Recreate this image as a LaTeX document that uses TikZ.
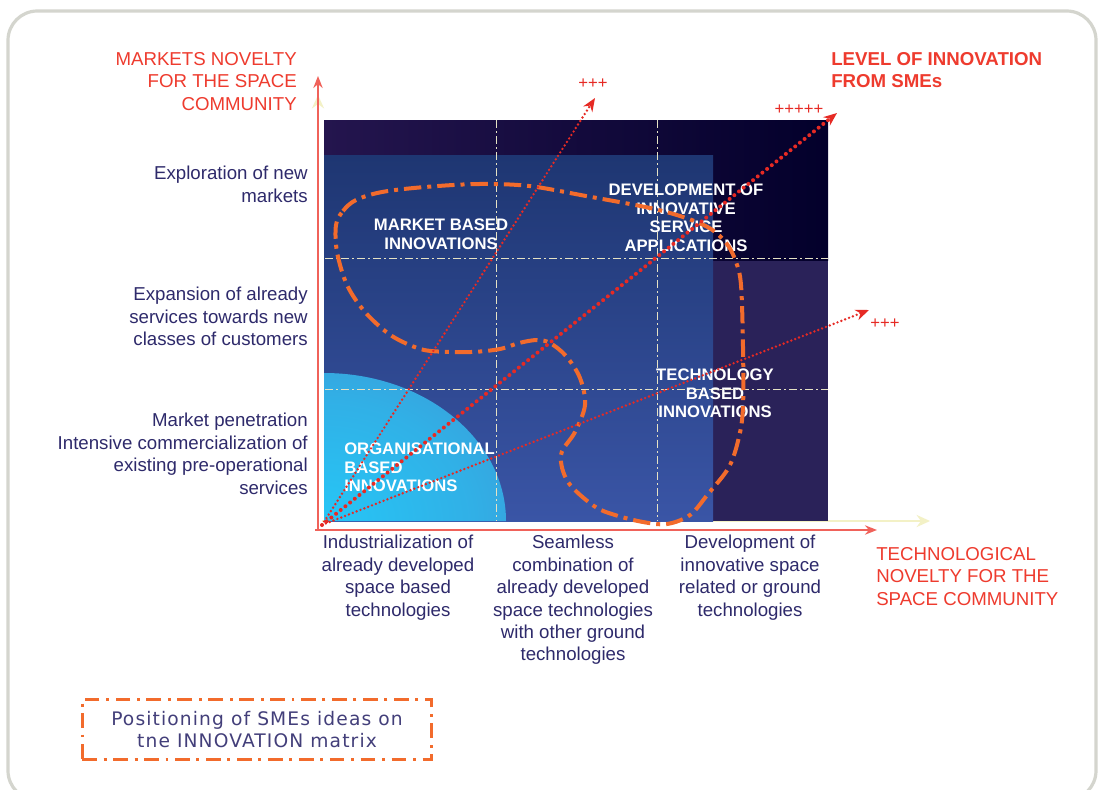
\documentclass[tikz,border=0pt]{standalone}
\usepackage{fontspec}
\setmainfont{Liberation Sans}
\newfontfamily\legendfont[LetterSpace=6]{DejaVu Sans}
\usetikzlibrary{arrows.meta}
\definecolor{navytext}{HTML}{2E2A6B}
\definecolor{axisred}{HTML}{F0625A}
\definecolor{labelred}{HTML}{EE3B2E}
\definecolor{dotred}{HTML}{E62A24}
\definecolor{orangec}{HTML}{F26B2C}
\definecolor{borderc}{HTML}{D4D5CE}
\definecolor{paley}{HTML}{F3F1C6}
\definecolor{gridc}{HTML}{E6E2C4}
\definecolor{bandl}{HTML}{24154E}
\definecolor{bandr}{HTML}{03002B}
\definecolor{rightcol}{HTML}{2A2259}
\definecolor{bluetop}{HTML}{1E3672}
\definecolor{bluebot}{HTML}{3A55A6}
\definecolor{cyanin}{HTML}{26C6F6}
\definecolor{cyanout}{HTML}{4A7DC2}
\pgfdeclareradialshading{quadshade}{\pgfpoint{0bp}{0bp}}{color(0bp)=(cyanin); color(20bp)=(cyanin!70!cyanout); color(50bp)=(cyanout); color(100bp)=(cyanout)}
\tikzset{
  axislbl/.style={font=\fontsize{14}{16.8}\selectfont, text=labelred, inner sep=0},
  rowlbl/.style={font=\fontsize{14}{16.8}\selectfont, text=navytext, align=right, inner sep=0, anchor=north east},
  collbl/.style={font=\fontsize{14}{16.8}\selectfont, text=navytext, align=center, inner sep=0, anchor=north},
  zonelbl/.style={font=\bfseries\fontsize{12.5}{13.9}\selectfont, text=white, inner sep=0},
  pluslbl/.style={font=\fontsize{12.5}{14}\selectfont, text=dotred, inner sep=0},
  gridline/.style={gridc, line width=0.7pt, dash pattern=on 6pt off 2.5pt on 1pt off 2.5pt},
  ideacurve/.style={orangec, line width=3pt, dash pattern=on 13pt off 4.5pt on 3pt off 4.5pt},
  growth/.style={dotred, line width=2pt, line cap=round, dash pattern=on 0pt off 3.1pt, -{Stealth[length=10pt,width=8pt]}},
  growthbold/.style={growth, line width=3pt, dash pattern=on 0pt off 4.5pt},
  redaxis/.style={axisred, line width=1.5pt, -{Stealth[length=9pt,width=7pt]}},
  paleaxis/.style={paley, line width=2.2pt, -{Stealth[length=10pt,width=9pt]}},
  legendbox/.style={draw=orangec, line width=2.2pt, dash pattern=on 11pt off 5pt on 2.2pt off 5pt,
    minimum width=262pt, minimum height=45.5pt, inner sep=0, align=center,
    font=\legendfont\fontsize{14}{15.8}\selectfont, text=navytext!90!white}
}
\begin{document}
\begin{tikzpicture}[x=0.75pt,y=-0.75pt]
\clip (0,0) rectangle (1099,789);
\fill[white] (0,0) rectangle (1099,789);
% outer frame
\draw[borderc, line width=2.4pt, rounded corners=22pt] (8,11) rectangle (1096,800);

% pale axes under the matrix
\coordinate (pvo) at (318,525);
\coordinate (pvt) at (318,95);
\coordinate (pho) at (322,521);
\coordinate (pht) at (930,521);
\draw[paleaxis] (pvo) -- (pvt);
\draw[paleaxis] (pho) -- (pht);

% matrix fills
\fill[rightcol] (324,120) rectangle (828,521);
\shade[left color=bandl, right color=bandr] (324,120) rectangle (828,260);
\shade[top color=bluetop, bottom color=bluebot] (324,155) rectangle (713,521);
\begin{scope}
  \clip (324,521) -- (324,373) .. controls (424.5,373) and (506,439.3) .. (506,521) -- cycle;
  \shade[shading=quadshade] (139,371) rectangle (509,671);
\end{scope}

% grid
\coordinate (g1t) at (496,120); \coordinate (g1b) at (496,521);
\coordinate (g2t) at (657,120); \coordinate (g2b) at (657,521);
\coordinate (h1l) at (325,258); \coordinate (h1r) at (828,258);
\coordinate (h2l) at (325,389); \coordinate (h2r) at (828,389);
\draw[gridline] (g1t) -- (g1b);
\draw[gridline] (g2t) -- (g2b);
\draw[gridline] (h1l) -- (h1r);
\draw[gridline] (h2l) -- (h2r);

% zone labels
\node[zonelbl, align=center, anchor=north] (zmarket) at (441,219) {MARKET BASED\\INNOVATIONS};
\node[zonelbl, align=center, anchor=north] (zservice) at (686,184) {DEVELOPMENT OF\\INNOVATIVE\\SERVICE\\APPLICATIONS};
\node[zonelbl, align=center, anchor=north] (ztech) at (715,369) {TECHNOLOGY\\BASED\\INNOVATIONS};
\node[zonelbl, align=left, anchor=north west] (zorg) at (344,443) {ORGANISATIONAL\\BASED\\INNOVATIONS};

% orange idea curve
\draw[ideacurve] plot[smooth cycle, tension=0.55] coordinates {
 (336,225) (343,211) (356,200) (382,192) (425,187) (479,184) (529,186) (586,196)
 (650,208) (686,218) (711,229) (727,244) (736,262) (741,285) (743,347) (743,407)
 (739,437) (729,467) (708,494) (690,515) (667,524) (643,522) (615,515) (594,506)
 (568,482) (561,455) (575,432) (585,405) (580,378) (566,356) (550,343) (537,340)
 (519,343) (500,349) (471,352) (431,351) (412,346) (389,334) (365,312) (347,285) (337,252)};

% growth arrows
\coordinate (o) at (322,525);
\coordinate (t1) at (595,98);
\coordinate (t2) at (837,113);
\coordinate (t3) at (869,310);
\draw[growth] (o) -- (t1);
\draw[growthbold] (o) -- (t2);
\draw[growth] (o) -- (t3);
\node[pluslbl] (p1) at (593,84) {+++};
\node[pluslbl] (p2) at (799,110) {+++++};
\node[pluslbl] (p3) at (885,324) {+++};

% red axes
\coordinate (yo) at (318,531);
\coordinate (yt) at (318,76);
\coordinate (xo) at (315,530);
\coordinate (xt) at (877,530);
\draw[redaxis] (yo) -- (yt);
\draw[redaxis] (xo) -- (xt);

% axis titles
\node[axislbl, align=right, anchor=north east] (ytitle) at (297,52) {MARKETS NOVELTY\\FOR THE SPACE\\COMMUNITY};
\node[axislbl, align=left, anchor=north west] (xtitle) at (876,547) {TECHNOLOGICAL\\NOVELTY FOR THE\\SPACE COMMUNITY};
\node[axislbl, font=\bfseries\fontsize{14}{16.5}\selectfont, align=left, anchor=north west] (ltitle) at (831,52) {LEVEL OF INNOVATION\\FROM SMEs};

% row labels
\node[rowlbl] (r3) at (308,166) {Exploration of new\\markets};
\node[rowlbl] (r2) at (308,287) {Expansion of already\\services towards new\\classes of customers};
\node[rowlbl] (r1) at (308,413) {Market penetration\\Intensive commercialization of\\existing pre-operational\\services};

% column labels
\node[collbl] (c1) at (398,535) {Industrialization of\\already developed\\space based\\technologies};
\node[collbl] (c2) at (573,535) {Seamless\\combination of\\already developed\\space technologies\\with other ground\\technologies};
\node[collbl] (c3) at (750,535) {Development of\\innovative space\\related or ground\\technologies};

% legend
\node[legendbox] (legend) at (257,729.5) {Positioning of SMEs ideas on\\tne INNOVATION matrix};
\end{tikzpicture}
\end{document}
